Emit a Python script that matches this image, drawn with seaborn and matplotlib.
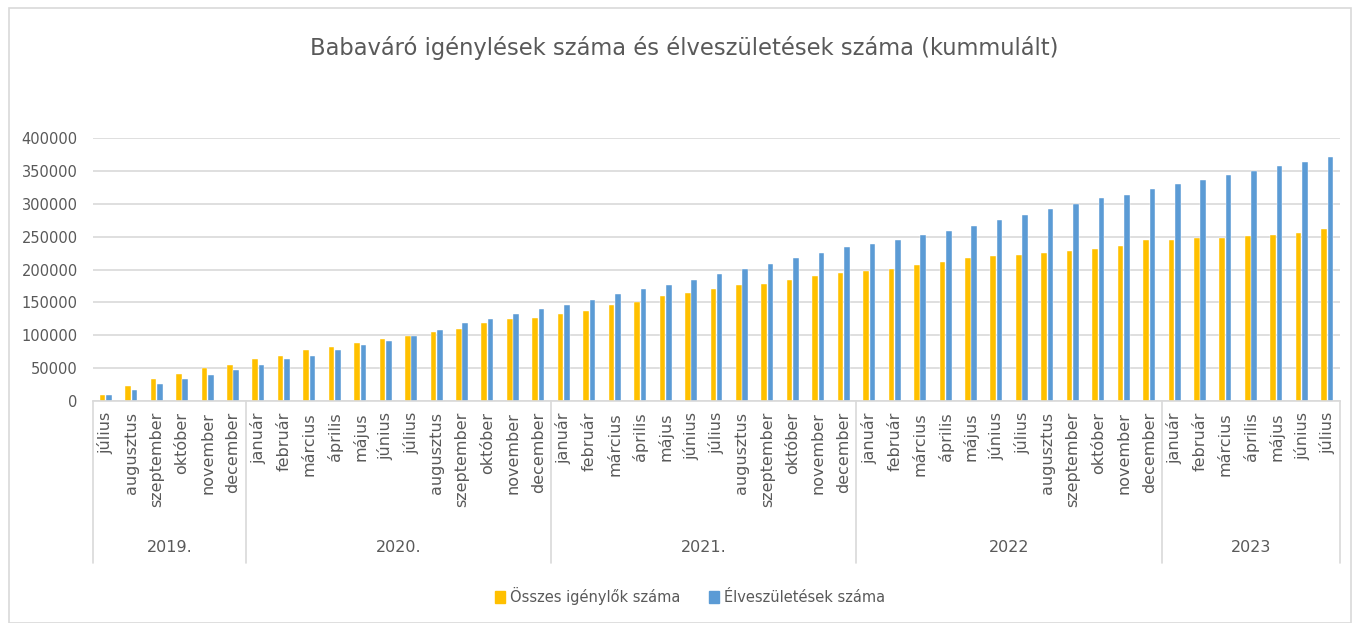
import matplotlib
matplotlib.use("Agg")
import matplotlib.pyplot as plt
import matplotlib.patches as mpatches
import matplotlib.transforms as mtransforms
import numpy as np
import pandas as pd
import seaborn as sns

# %%
months_2019 = ["július", "augusztus", "szeptember", "október", "november", "december"]
months_full = ["január", "február", "március", "április", "május", "június",
               "július", "augusztus", "szeptember", "október", "november", "december"]
months_2023 = months_full[:7]
month_labels = months_2019 + months_full + months_full + months_full + months_2023

years = ["2019.", "2020.", "2021.", "2022", "2023"]
year_counts = [6, 12, 12, 12, 7]

igenylok = [8600, 22300, 33000, 41100, 49700, 54800,
            63400, 69000, 77200, 82700, 88300, 93900, 99500, 104600, 110100, 118800, 124400, 126900,
            132000, 137100, 145700, 151300, 159400, 165000, 170600, 176100, 178700, 184300, 189800, 195400,
            198000, 200500, 206100, 211700, 217300, 220300, 222800, 225400, 228400, 231000, 236500, 244700,
            244700, 247700, 247700, 250300, 252800, 255800, 261400]
elveszuletes = [8600, 16800, 25400, 33500, 39100, 47200,
                54800, 63400, 69000, 77200, 85300, 90900, 99500, 107600, 118800, 124400, 132500, 140600,
                145700, 154300, 162400, 170600, 176100, 184300, 192400, 200500, 209100, 217300, 225400, 233500,
                239100, 244700, 252800, 258400, 266500, 275100, 283200, 291400, 300000, 308100, 313700, 321800,
                329900, 335500, 344200, 349200, 357400, 363000, 371100]

series_names = ["Összes igénylők száma", "Élveszületések száma"]
colors = ["#FFC000", "#5B9BD5"]
grey = "#595959"

# %%
n = len(month_labels)
df = pd.DataFrame({
    "idx": list(range(n)) * 2,
    "value": igenylok + elveszuletes,
    "series": [series_names[0]] * n + [series_names[1]] * n,
})

sns.set_style("white")
plt.rcParams["font.family"] = ["DejaVu Sans"]

fig = plt.figure(figsize=(13.54, 6.23), dpi=100)
ax = fig.add_axes([93 / 1354, (623 - 401) / 623, (1340 - 93) / 1354, (401 - 138) / 623])

sns.barplot(data=df, x="idx", y="value", hue="series", palette=colors,
            width=0.5, gap=0.12, dodge=True, legend=False, ax=ax,
            edgecolor="white", linewidth=0.3, saturation=1)

ax.set_ylim(0, 400000)
ax.set_xlim(-0.5, n - 0.5)
ax.set_yticks(np.arange(0, 400001, 50000))
ax.set_yticklabels([str(v) for v in range(0, 400001, 50000)], fontsize=10.5, color=grey)
ax.yaxis.grid(True, color="#d9d9d9", linewidth=1.2)
ax.set_axisbelow(True)
ax.tick_params(axis="y", length=0, pad=11)

ax.set_xticks(range(n))
ax.set_xticklabels(month_labels, rotation=90, fontsize=11.5, color=grey, va="top", ha="center")
ax.tick_params(axis="x", length=0, pad=8)
ax.set_xlabel("")
ax.set_ylabel("")

for s in ["left", "right", "top"]:
    ax.spines[s].set_visible(False)
ax.spines["bottom"].set_color("#d9d9d9")
ax.spines["bottom"].set_linewidth(1.2)

# year groups below the month labels
trans = mtransforms.blended_transform_factory(ax.transData, ax.transAxes)
sep_bottom = (401 - 563) / 263
year_y = (401 - 548) / 263
start = -0.5
ax.plot([start, start], [0, sep_bottom], color="#d9d9d9", lw=1.2, transform=trans, clip_on=False)
for year, cnt in zip(years, year_counts):
    end = start + cnt
    ax.plot([end, end], [0, sep_bottom], color="#d9d9d9", lw=1.2, transform=trans, clip_on=False)
    ax.text((start + end) / 2, year_y, year, transform=trans, ha="center", va="center",
            fontsize=11.5, color=grey)
    start = end

fig.text(684 / 1354, 1 - 48 / 623, "Babaváró igénylések száma és élveszületések száma (kummulált)",
         ha="center", va="center", fontsize=16.3, color=grey)

handles = [mpatches.Patch(color=c, label=l) for c, l in zip(colors, series_names)]
fig.legend(handles=handles, loc="center", bbox_to_anchor=(690 / 1354, 1 - 596 / 623), ncol=2,
           frameon=False, fontsize=10.5, labelcolor=grey, handlelength=0.7, handleheight=0.9,
           handletextpad=0.3, columnspacing=2.0)

# outer chart frame
fig.patches.append(mpatches.Rectangle((9 / 1354, 0), (1351 - 9) / 1354, 1 - 8 / 623,
                                      transform=fig.transFigure, fill=False,
                                      edgecolor="#d9d9d9", linewidth=1.2))

fig.savefig("out.png", dpi=100)
